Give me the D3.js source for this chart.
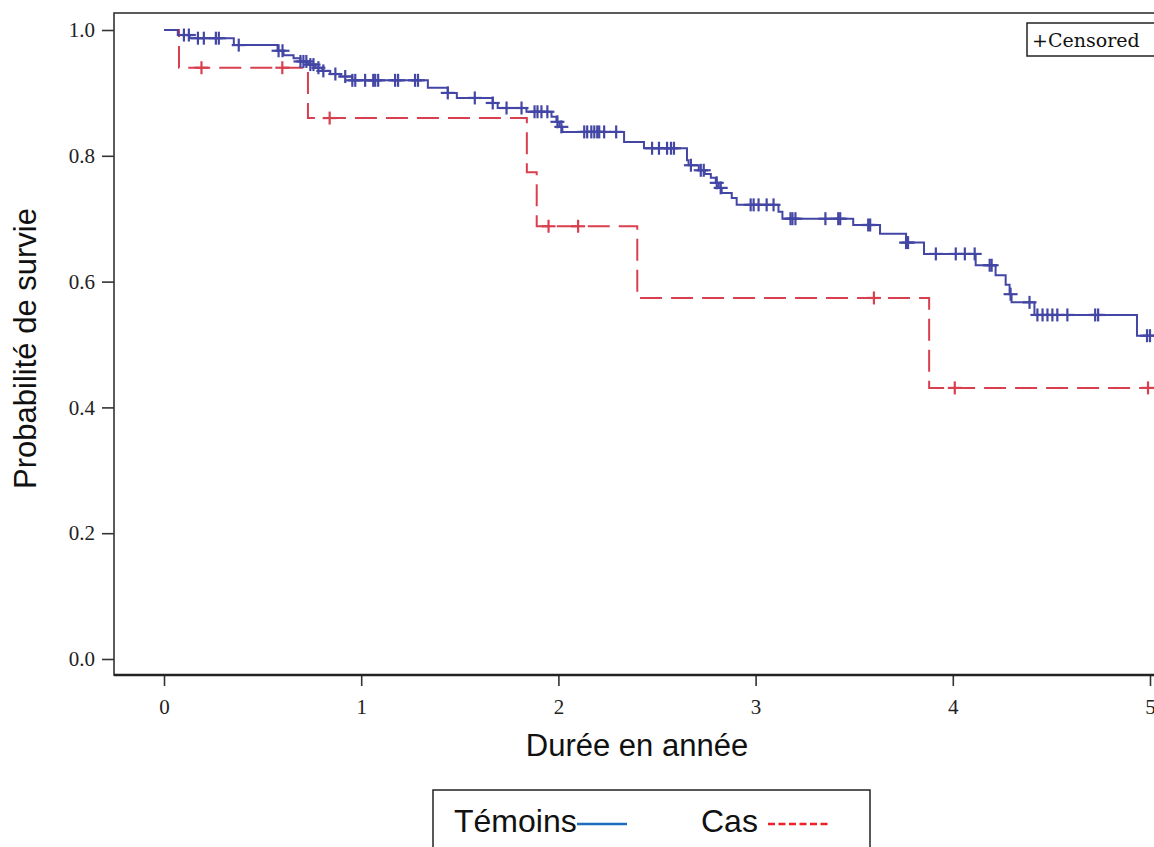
<!DOCTYPE html>
<html>
<head>
<meta charset="utf-8">
<script src="https://cdn.jsdelivr.net/npm/d3@7"></script>
<style>
  body { margin: 0; background: #fff; }
  svg { display: block; }
</style>
</head>
<body>
<div id="chart"></div>
<script>
// Kaplan-Meier steps
const temoinsTimes = [0, 0.07, 0.13, 0.354, 0.576, 0.606, 0.657, 0.692, 0.732, 0.768, 0.803, 0.843, 0.894, 0.955,
  1.338, 1.439, 1.485, 1.667, 1.692, 1.838, 1.965, 1.99, 2.005, 2.02, 2.333, 2.434, 2.652, 2.66, 2.712, 2.742,
  2.773, 2.798, 2.813, 2.828, 2.879, 2.904, 3.116, 3.136, 3.495, 3.631, 3.763, 3.854, 4.116, 4.217, 4.268,
  4.288, 4.298, 4.414, 4.934];
const temoinsSurv = [1, 0.992, 0.987, 0.976, 0.967, 0.96, 0.955, 0.95, 0.945, 0.94, 0.935, 0.93, 0.926, 0.92,
  0.908, 0.90, 0.892, 0.884, 0.876, 0.87, 0.862, 0.854, 0.846, 0.838, 0.822, 0.812, 0.793, 0.785, 0.777, 0.771,
  0.765, 0.757, 0.749, 0.741, 0.733, 0.722, 0.711, 0.70, 0.69, 0.676, 0.662, 0.644, 0.626, 0.61, 0.595,
  0.58, 0.567, 0.547, 0.514];
const temoinsCensored = [0.101, 0.126, 0.172, 0.202, 0.263, 0.278, 0.379, 0.581, 0.601, 0.692, 0.707, 0.722,
  0.742, 0.758, 0.783, 0.808, 0.869, 0.919, 0.955, 0.97, 1.02, 1.061, 1.071, 1.086, 1.172, 1.187, 1.273, 1.288,
  1.439, 1.576, 1.667, 1.737, 1.813, 1.879, 1.894, 1.914, 1.944, 1.995, 2.015, 2.131, 2.146, 2.167, 2.182,
  2.197, 2.207, 2.232, 2.293, 2.475, 2.51, 2.551, 2.571, 2.586, 2.672, 2.722, 2.737, 2.803, 2.823, 2.975,
  2.99, 3.015, 3.056, 3.091, 3.177, 3.187, 3.202, 3.354, 3.419, 3.429, 3.571, 3.581, 3.763, 3.773, 3.914,
  4.015, 4.061, 4.111, 4.187, 4.197, 4.293, 4.389, 4.429, 4.455, 4.48, 4.505, 4.53, 4.581, 4.722, 4.737,
  4.985, 5.0];

const casTimes = [0, 0.076, 0.73, 1.84, 1.89, 2.40, 3.88];
const casSurv = [1, 0.94, 0.86, 0.774, 0.688, 0.574, 0.431];
const casCensored = [0.19, 0.60, 0.84, 1.95, 2.10, 3.60, 4.01, 4.99];

const xTicks = [0, 1, 2, 3, 4, 5];
const yTicks = [0, 0.2, 0.4, 0.6, 0.8, 1.0];

const width = 1154, height = 847;
const svg = d3.select("#chart").append("svg")
  .attr("width", width)
  .attr("height", height);

const x = d3.scaleLinear().domain([0, 5]).range([164, 1150]);
const y = d3.scaleLinear().domain([0, 1]).range([659, 30]);
const frameLeft = 114, frameTop = 13, frameBottom = 675;

// frame
svg.append("rect")
  .attr("x", frameLeft).attr("y", frameTop)
  .attr("width", width + 20 - frameLeft).attr("height", frameBottom - frameTop)
  .attr("fill", "none").attr("stroke", "#333").attr("stroke-width", 1.6);

// axes
const xAxis = svg.append("g")
  .attr("transform", `translate(0,${frameBottom})`)
  .call(d3.axisBottom(x).tickValues(xTicks).tickFormat(d3.format("d")).tickSize(11).tickPadding(13));
const yAxis = svg.append("g")
  .attr("transform", `translate(${frameLeft},0)`)
  .call(d3.axisLeft(y).tickValues(yTicks).tickFormat(d3.format(".1f")).tickSize(12).tickPadding(7));

[xAxis, yAxis].forEach(g => {
  g.select(".domain").remove();
  g.selectAll(".tick line").attr("stroke", "#333").attr("stroke-width", 1.6);
  g.selectAll(".tick text")
    .attr("fill", "#222")
    .style("font-family", "'Liberation Serif', serif")
    .style("font-size", "21px");
});
svg.append("line")
  .attr("x1", frameLeft).attr("x2", width)
  .attr("y1", frameBottom).attr("y2", frameBottom)
  .attr("stroke", "#222").attr("stroke-width", 2.4);

// axis titles
svg.append("text")
  .attr("transform", `translate(36,${(y(0) + y(1)) / 2 + 4}) rotate(-90)`)
  .attr("text-anchor", "middle")
  .style("font-family", "'Liberation Sans', Arial, sans-serif")
  .style("font-size", "31px")
  .attr("fill", "#111")
  .text("Probabilité de survie");

svg.append("text")
  .attr("x", 637).attr("y", 756)
  .attr("text-anchor", "middle")
  .style("font-family", "'Liberation Sans', Arial, sans-serif")
  .style("font-size", "31px")
  .attr("fill", "#111")
  .text("Durée en année");

// curves
const survAt = (times, surv, t) => surv[d3.bisectRight(times, t) - 1];

const series = [
  { times: temoinsTimes, surv: temoinsSurv, censored: temoinsCensored, color: "#4346a4", dash: null },
  { times: casTimes, surv: casSurv, censored: casCensored, color: "#d9404f", dash: "22,9" }
];

const line = d3.line()
  .x(d => x(d[0]))
  .y(d => y(d[1]))
  .curve(d3.curveStepAfter);

const plot = svg.append("g");
// draw Cas first so Témoins lies over it
series.slice().reverse().forEach(s => {
  const end = d3.max(s.censored);
  const pts = s.times.map((t, i) => [t, s.surv[i]]);
  pts.push([end, s.surv[s.surv.length - 1]]);

  plot.append("path")
    .datum(pts)
    .attr("fill", "none")
    .attr("stroke", s.color)
    .attr("stroke-width", 2)
    .attr("stroke-dasharray", s.dash)
    .attr("d", line);

  const crosses = plot.append("g")
    .selectAll("g")
    .data(s.censored)
    .join("g")
    .attr("transform", t => `translate(${x(t)},${y(survAt(s.times, s.surv, t))})`);
  crosses.append("line").attr("x1", -7).attr("x2", 7)
    .attr("stroke", s.color).attr("stroke-width", 2.2);
  crosses.append("line").attr("y1", -6.5).attr("y2", 6.5)
    .attr("stroke", s.color).attr("stroke-width", 2.2);
});

// censored legend (top right)
svg.append("rect")
  .attr("x", 1027).attr("y", 23)
  .attr("width", 140).attr("height", 33)
  .attr("fill", "#fff").attr("stroke", "#222").attr("stroke-width", 1.5);
svg.append("text")
  .attr("x", 1032).attr("y", 47)
  .style("font-family", "'DejaVu Serif', serif")
  .style("font-size", "19px")
  .attr("fill", "#111")
  .text("+Censored");

// bottom legend
const legend = svg.append("g");
legend.append("rect")
  .attr("x", 433).attr("y", 790)
  .attr("width", 437).attr("height", 80)
  .attr("fill", "#fff").attr("stroke", "#222").attr("stroke-width", 1.5);

const legendItems = [
  { label: "Témoins", x: 454, lx1: 577, lx2: 627, color: "#1f6cbf", dash: null },
  { label: "Cas", x: 701, lx1: 768, lx2: 830, color: "#ee2027", dash: "7,3.5" }
];
legendItems.forEach(d => {
  legend.append("text")
    .attr("x", d.x).attr("y", 832)
    .style("font-family", "'Liberation Sans', Arial, sans-serif")
    .style("font-size", "32px")
    .attr("fill", "#111")
    .text(d.label);
  legend.append("line")
    .attr("x1", d.lx1).attr("x2", d.lx2)
    .attr("y1", 824).attr("y2", 824)
    .attr("stroke", d.color).attr("stroke-width", 2.6)
    .attr("stroke-dasharray", d.dash);
});
</script>
</body>
</html>
